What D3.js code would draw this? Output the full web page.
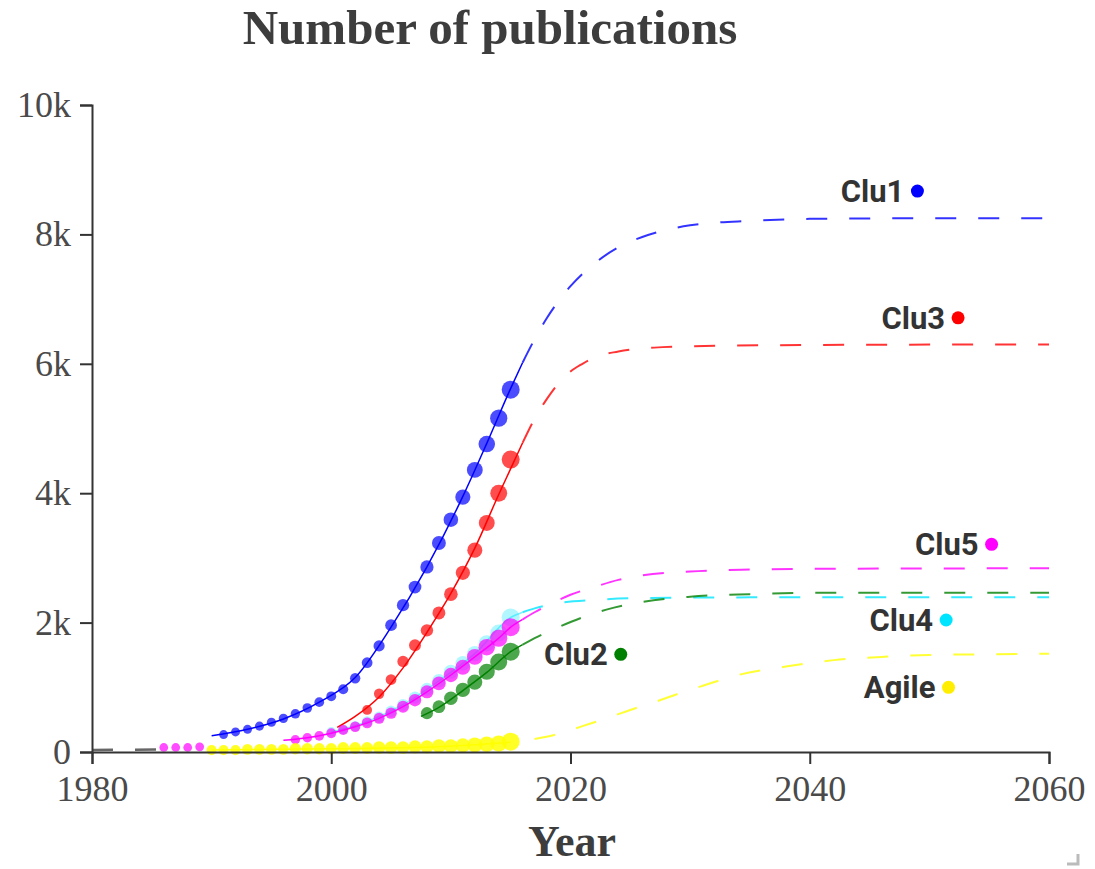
<!DOCTYPE html>
<html>
<head>
<meta charset="utf-8">
<script src="https://cdn.jsdelivr.net/npm/d3@7"></script>
<style>
  body { margin: 0; background: #fff; }
  svg { display: block; }
</style>
</head>
<body>
<svg width="1095" height="869"></svg>
<script>
// observed points (thousands of publications)
var clu1Years = d3.range(1991, 2016);
var clu1Values = [0.27, 0.31, 0.35, 0.40, 0.46, 0.52, 0.59, 0.68, 0.77, 0.86, 0.97, 1.14, 1.38,
    1.64, 1.96, 2.27, 2.55, 2.86, 3.23, 3.59, 3.94, 4.36, 4.76, 5.16, 5.60];

var clu3Years = d3.range(2003, 2016);
var clu3Values = [0.65, 0.90, 1.12, 1.40, 1.65, 1.88, 2.15, 2.44, 2.77, 3.12, 3.54, 4.00, 4.52];

var clu5Years = [1986, 1987, 1988, 1989].concat(d3.range(1997, 2016));
var clu5Values = [0.07, 0.07, 0.07, 0.08, 0.19, 0.22, 0.25, 0.29, 0.34, 0.39, 0.45, 0.52, 0.60,
    0.70, 0.80, 0.93, 1.06, 1.19, 1.31, 1.47, 1.62, 1.76, 1.93];

var clu4Years = d3.range(2000, 2016);
var clu4Values = [0.31, 0.35, 0.40, 0.47, 0.54, 0.63, 0.73, 0.84, 0.97, 1.10, 1.24, 1.37, 1.52,
    1.68, 1.84, 2.08];

var clu2Years = d3.range(2008, 2016);
var clu2Values = [0.60, 0.70, 0.83, 0.96, 1.08, 1.24, 1.39, 1.55];

var agileYears = d3.range(1990, 2016);
var agileValues = [0.03, 0.03, 0.03, 0.04, 0.04, 0.04, 0.04, 0.05, 0.05, 0.05, 0.05, 0.06, 0.06,
    0.06, 0.07, 0.07, 0.07, 0.08, 0.08, 0.09, 0.09, 0.10, 0.11, 0.12, 0.13, 0.16];

// fitted curves
var clu1FitYears = [1990, 1993, 1996, 1999, 2002, 2005, 2008, 2011, 2013, 2015, 2016, 2017, 2018,
    2019, 2020, 2022, 2024, 2026, 2028, 2030, 2035, 2040, 2050, 2060];
var clu1FitValues = [0.25, 0.35, 0.51, 0.77, 1.15, 1.93, 2.86, 3.95, 4.77, 5.62, 6.02, 6.38, 6.70,
    6.97, 7.20, 7.55, 7.80, 7.96, 8.07, 8.14, 8.21, 8.24, 8.25, 8.25];

var clu3FitYears = [2000.5, 2002, 2004, 2006, 2008, 2010, 2012, 2014, 2015, 2016, 2017, 2018, 2019,
    2020, 2021, 2022, 2024, 2027, 2030, 2040, 2060];
var clu3FitValues = [0.38, 0.55, 0.85, 1.30, 1.85, 2.45, 3.15, 3.98, 4.38, 4.78, 5.15, 5.45, 5.70,
    5.88, 6.00, 6.10, 6.19, 6.25, 6.27, 6.29, 6.30];

var clu5FitYears = [1996, 1998, 2000, 2002, 2004, 2006, 2008, 2010, 2012, 2014, 2015, 2016, 2017,
    2018, 2019, 2020, 2022, 2024, 2026, 2030, 2035, 2040, 2060];
var clu5FitValues = [0.18, 0.22, 0.29, 0.39, 0.52, 0.70, 0.93, 1.19, 1.47, 1.76, 1.93, 2.05, 2.16,
    2.26, 2.35, 2.43, 2.55, 2.66, 2.73, 2.79, 2.82, 2.83, 2.84];

var clu4FitYears = [2000, 2003, 2006, 2009, 2012, 2015, 2016, 2017, 2019, 2022, 2026, 2035, 2060];
var clu4FitValues = [0.31, 0.47, 0.73, 1.10, 1.52, 2.08, 2.16, 2.22, 2.30, 2.35, 2.38, 2.39, 2.39];

var clu2FitYears = [2007.5, 2009, 2011, 2013, 2015, 2016, 2017, 2019, 2021, 2023, 2026, 2030, 2035,
    2040, 2060];
var clu2FitValues = [0.55, 0.69, 0.95, 1.23, 1.55, 1.66, 1.76, 1.93, 2.08, 2.20, 2.32, 2.40, 2.44,
    2.46, 2.46];

var agileFitYears = [1990, 2000, 2010, 2015, 2017, 2019, 2021, 2023, 2025, 2027, 2029, 2031, 2034,
    2038, 2042, 2046, 2050, 2055, 2060];
var agileFitValues = [0.03, 0.05, 0.09, 0.15, 0.20, 0.28, 0.40, 0.52, 0.65, 0.77, 0.90, 1.02, 1.19,
    1.32, 1.42, 1.47, 1.50, 1.51, 1.52];

// short grey dashes at the very start of the axis
var baseFitYears = [1980, 1986];
var baseFitValues = [0.03, 0.04];

// labels with their marker positions
var labelNames = ['Clu1', 'Clu3', 'Clu5', 'Clu4', 'Agile', 'Clu2'];
var labelYears = [2049.0, 2052.4, 2055.2, 2051.4, 2051.6, 2024.2];
var labelValues = [8.67, 6.71, 3.21, 2.04, 1.00, 1.51];
var labelColors = ['#0000ff', '#ff0000', '#ff00ff', '#00e5ff', '#ffee00', '#008000'];

var xTicks = [1980, 2000, 2020, 2040, 2060];
var yTicks = [0, 2, 4, 6, 8, 10];

var zip = (xs, ys) => xs.map((x, i) => [x, ys[i]]);

// drawing order: back to front
var series = [
    { color: '#00e5ff', dotOpacity: 0.3, lineOpacity: 0.5, pts: zip(clu4Years, clu4Values), fit: zip(clu4FitYears, clu4FitValues) },
    { color: '#0000ff', dotOpacity: 0.7, lineOpacity: 1, pts: zip(clu1Years, clu1Values), fit: zip(clu1FitYears, clu1FitValues) },
    { color: '#ff0000', dotOpacity: 0.7, lineOpacity: 1, pts: zip(clu3Years, clu3Values), fit: zip(clu3FitYears, clu3FitValues) },
    { color: '#ff00ff', dotOpacity: 0.7, lineOpacity: 1, pts: zip(clu5Years, clu5Values), fit: zip(clu5FitYears, clu5FitValues) },
    { color: '#008000', dotOpacity: 0.7, lineOpacity: 1, pts: zip(clu2Years, clu2Values), fit: zip(clu2FitYears, clu2FitValues) },
    { color: '#ffff00', dotOpacity: 0.85, lineOpacity: 1, pts: zip(agileYears, agileValues), fit: zip(agileFitYears, agileFitValues) }
];

var svg = d3.select('svg');
var serif = '"Liberation Serif", "Times New Roman", serif';

var x = d3.scaleLinear().domain([1980, 2060]).range([92, 1049]);
var y = d3.scaleLinear().domain([0, 10]).range([752, 105]);

var line = d3.line()
    .x(d => x(d[0]))
    .y(d => y(d[1]))
    .curve(d3.curveMonotoneX);

var splitYear = 2016;

svg.append('path')
    .attr('d', line(zip(baseFitYears, baseFitValues)))
    .attr('fill', 'none')
    .attr('stroke', '#666')
    .attr('stroke-width', 2.5)
    .attr('stroke-dasharray', '21,22');

// each series: dots, then the fitted line (solid over the data, dashed for the forecast)
series.forEach(s => {
    var g = svg.append('g');
    var max = d3.max(s.pts, d => d[1]);
    g.selectAll('circle')
        .data(s.pts)
        .enter().append('circle')
        .attr('cx', d => x(d[0]))
        .attr('cy', d => y(d[1]))
        .attr('r', d => 4.2 + 4.8 * d[1] / max)
        .attr('fill', s.color)
        .attr('fill-opacity', s.dotOpacity);

    var solid = s.fit.filter(d => d[0] <= splitYear);
    var dashed = s.fit.filter(d => d[0] >= splitYear);
    g.append('path')
        .attr('d', line(solid))
        .attr('fill', 'none')
        .attr('stroke', s.color)
        .attr('stroke-opacity', s.lineOpacity)
        .attr('stroke-width', 1.5);
    g.append('path')
        .attr('d', line(dashed))
        .attr('fill', 'none')
        .attr('stroke', s.color)
        .attr('stroke-opacity', 0.8)
        .attr('stroke-width', 2)
        .attr('stroke-dasharray', '21,22');
});

// axes
var xAxis = svg.append('g')
    .attr('transform', 'translate(0,' + y(0) + ')')
    .call(d3.axisBottom(x).tickValues(xTicks).tickFormat(d3.format('d')).tickSize(12).tickPadding(11));

var yAxis = svg.append('g')
    .attr('transform', 'translate(' + x(1980) + ',0)')
    .call(d3.axisLeft(y).tickValues(yTicks).tickFormat(d => d === 0 ? '0' : d + 'k').tickSize(12).tickPadding(9));

[xAxis, yAxis].forEach(a => {
    a.select('.domain').attr('stroke', '#333').attr('stroke-width', 2);
    a.selectAll('.tick line').attr('stroke', '#333').attr('stroke-width', 2);
    a.selectAll('.tick text')
        .attr('fill', '#4a4a4a')
        .style('font-family', serif)
        .style('font-size', '36px');
});

// series labels
var labels = svg.append('g');
labelNames.forEach((name, i) => {
    var cx = x(labelYears[i]);
    var cy = y(labelValues[i]);
    labels.append('circle')
        .attr('cx', cx)
        .attr('cy', cy)
        .attr('r', 6.5)
        .attr('fill', labelColors[i]);
    labels.append('text')
        .attr('x', cx - 13)
        .attr('y', cy)
        .attr('dy', '0.36em')
        .attr('text-anchor', 'end')
        .attr('fill', '#333')
        .style('font-family', 'Roboto, sans-serif')
        .style('font-weight', 'bold')
        .style('font-size', '31px')
        .text(name);
});

// titles
svg.append('text')
    .attr('x', 490)
    .attr('y', 44)
    .attr('text-anchor', 'middle')
    .attr('fill', '#3d3d3d')
    .style('font-family', serif)
    .style('font-weight', 'bold')
    .style('font-size', '49px')
    .text('Number of publications');

svg.append('text')
    .attr('x', 572)
    .attr('y', 856)
    .attr('text-anchor', 'middle')
    .attr('fill', '#3d3d3d')
    .style('font-family', serif)
    .style('font-weight', 'bold')
    .style('font-size', '44px')
    .text('Year');

// resize grip in the corner
svg.append('path')
    .attr('d', 'M1078,854V864H1067')
    .attr('fill', 'none')
    .attr('stroke', '#bbb')
    .attr('stroke-width', 3);
</script>
</body>
</html>
